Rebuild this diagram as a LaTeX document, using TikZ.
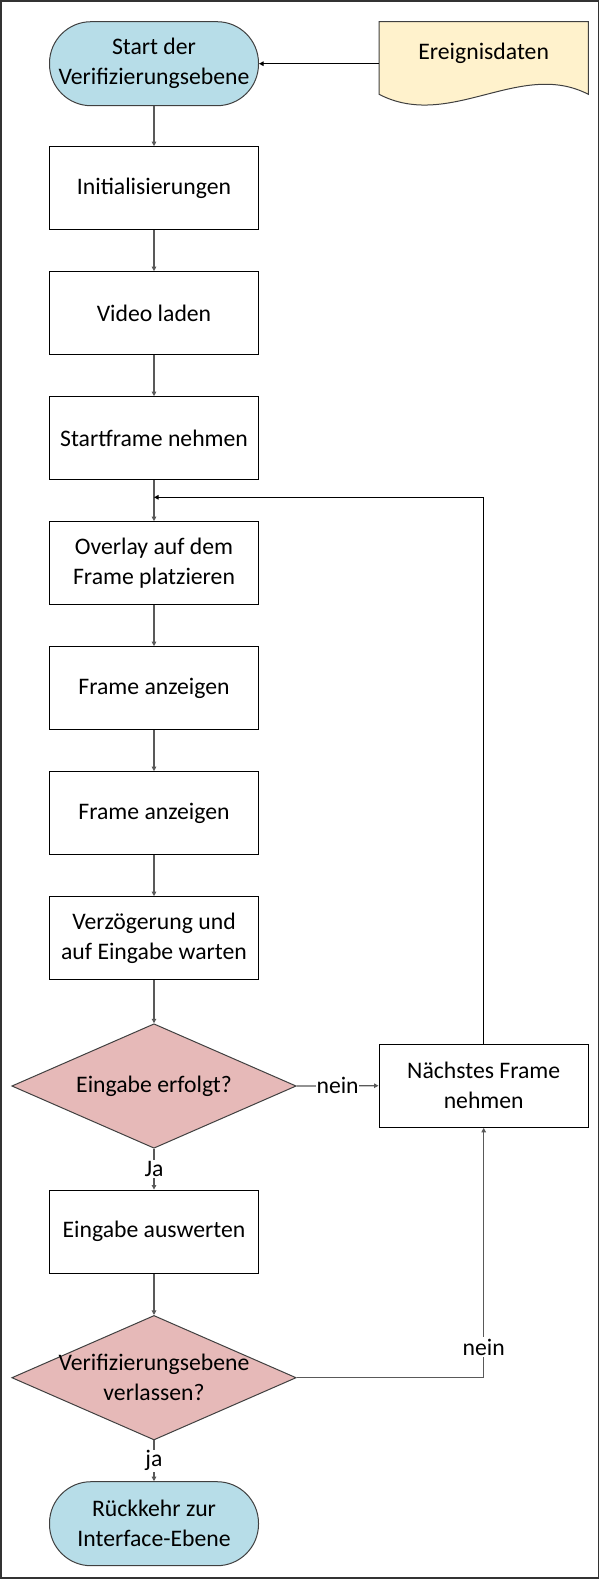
\documentclass[tikz,border=0pt]{standalone}
\usepackage{fontspec}
\setmainfont{Carlito}
\usetikzlibrary{arrows.meta,shapes.geometric}
\definecolor{pillblue}{HTML}{B7DDE8}
\definecolor{docyellow}{HTML}{FFF2CC}
\definecolor{decred}{HTML}{E6B9B8}
\definecolor{conn}{HTML}{595959}
\definecolor{edge}{HTML}{404040}
\begin{document}
\begin{tikzpicture}[x=1pt,y=-1pt,
  every node/.style={font=\fontsize{23.7}{30}\selectfont, align=center, text=black},
  procbox/.style={draw=black, line width=1pt, fill=white, minimum width=209pt, minimum height=83.3pt, inner sep=0pt},
  terminal/.style={draw=edge, line width=1pt, fill=pillblue, rounded corners=41.5pt, minimum width=209pt, minimum height=84pt, inner sep=0pt},
  decision/.style={draw=edge, line width=1pt, fill=decred, diamond, aspect=2.28, minimum width=284.4pt, minimum height=124.5pt, inner sep=0pt},
  docshape/.style={draw=edge, line width=1pt, fill=docyellow},
  flow/.style={draw=conn, line width=1.3pt, -{Triangle[length=4.5pt,width=4.5pt]}},
  blackflow/.style={draw=black, line width=1pt, -{Triangle[length=4.5pt,width=4.5pt]}},
  edgelabel/.style={fill=white, inner sep=1pt},
]
\useasboundingbox (0,0) rectangle (600,1580);
\fill[white] (0,0) rectangle (600,1580);
\draw[line width=1.3pt, draw=black!80] (1,1) rectangle (598.5,1578);

% document shape
\draw[docshape] (379,21.7) -- (588.3,21.7) -- (588.3,94.3)
  .. controls (520,59) and (450,131) .. (379,94.3) -- cycle;
\node[minimum width=209.3pt, inner sep=0pt] (ered) at (483.7,53.3) {Ereignisdaten};

\node[terminal] (start) at (154,63.7) {Start der\\Verifizierungsebene};
\node[procbox] (init) at (154,188.3) {Initialisierungen};
\node[procbox] (video) at (154,313.3) {Video laden};
\node[procbox] (startf) at (154,438.3) {Startframe nehmen};
\node[procbox] (overlay) at (154,563.3) {Overlay auf dem\\Frame platzieren};
\node[procbox] (frameA) at (154,688.3) {Frame anzeigen};
\node[procbox] (frameB) at (154,813.3) {Frame anzeigen};
\node[procbox] (verz) at (154,938.3) {Verzögerung und\\auf Eingabe warten};
\node[decision] (dia1) at (154,1086) {};
\node at (dia1.center) {Eingabe erfolgt?};
\node[procbox, minimum width=209.3pt] (naech) at (483.7,1085.7) {Nächstes Frame\\nehmen};
\node[procbox] (eing) at (154,1231.7) {Eingabe auswerten};
\node[decision] (dia2) at (154,1377.7) {};
\node at (dia2.center) {Verifizierungsebene\\verlassen?};
\node[terminal] (rueck) at (154,1523.7) {Rückkehr zur\\Interface-Ebene};

\coordinate (loopin) at (154,497.3);

\draw[blackflow] (ered.west |- start.east) -- (start.east);
\draw[flow] (start.south) -- (init.north);
\draw[flow] (init.south) -- (video.north);
\draw[flow] (video.south) -- (startf.north);
\draw[flow] (startf.south) -- (overlay.north);
\draw[flow] (overlay.south) -- (frameA.north);
\draw[flow] (frameA.south) -- (frameB.north);
\draw[flow] (frameB.south) -- (verz.north);
\draw[flow] (verz.south) -- (dia1.north);
\draw[flow] (dia1.south) -- node[edgelabel] {Ja} (eing.north);
\draw[flow] (dia1.east) -- node[edgelabel, inner sep=0.5pt] {nein} (naech.west);
\draw[flow] (eing.south) -- (dia2.north);
\draw[flow] (dia2.south) -- node[edgelabel] {ja} (rueck.north);
\draw[flow] (dia2.east) -| node[edgelabel, pos=0.561, inner sep=2pt] {nein} (naech.south);
\draw[blackflow] (naech.north) |- (loopin);
\end{tikzpicture}
\end{document}
